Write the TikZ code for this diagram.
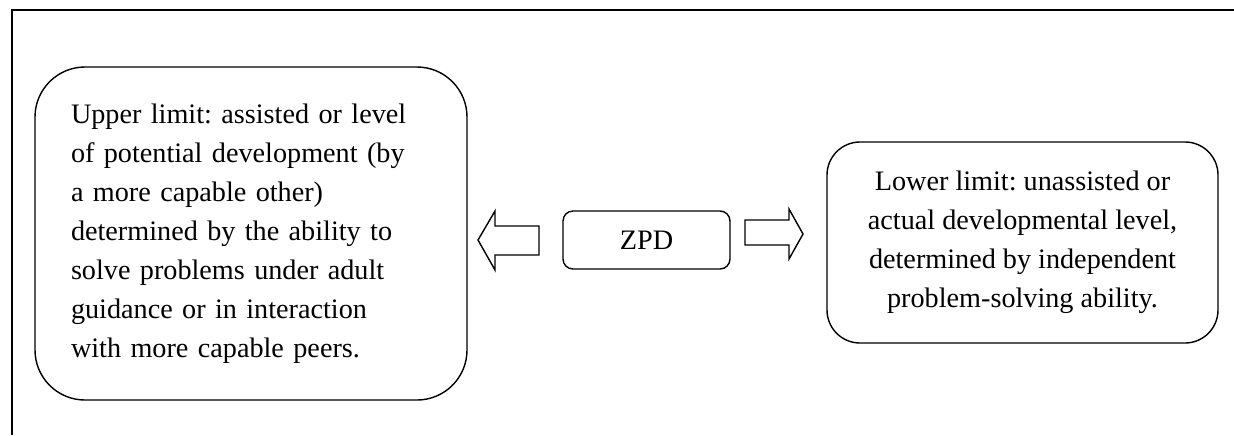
\documentclass[tikz,border=0pt]{standalone}
\usepackage{fontspec}
\setmainfont{Liberation Serif}
\usepackage{tikz}
\usetikzlibrary{positioning}

\tikzset{
	limitbox/.style={draw, line width=0.7pt, rounded corners=25pt, inner sep=0pt},
	blockarrow/.style={draw, line width=0.7pt, line join=miter}
}

\begin{document}
\frenchspacing
\begin{tikzpicture}[x=0.5pt, y=-0.5pt]
			\useasboundingbox (0,0) rectangle (1234,435);
			\fontsize{14.1}{19.5}\selectfont

			%% Frame
			\draw[line width=1pt] (1234,10)--(12,10)--(12,435);

			%% Upper limit
			\node[limitbox, minimum width=216pt, minimum height=166.5pt,
				text width=180pt, align=left] (upper) at (251,233.5)
				{Upper limit: assisted or level\\
				 of potential development (by\\
				 a more capable other)\\
				 determined by the ability to\\
				 solve problems under adult\\
				 guidance or in interaction\\
				 with more capable peers.};

			%% ZPD
			\node[limitbox, rounded corners=5pt, minimum width=83.5pt,
				minimum height=29pt] (zpd) at (646.5,240) {ZPD};

			%% Lower limit
			\node[limitbox, rounded corners=16.5pt, minimum width=195.5pt,
				minimum height=100.5pt, align=center] (lower) at (1022.5,242.5)
				{Lower limit: unassisted or\\
				 actual developmental level,\\
				 determined by independent\\
				 problem-solving ability.};

			%% Arrows
			\draw[blockarrow] (478,240)--(495,211)--(495,226)--(539,226)
				--(539,255)--(495,255)--(495,270)--cycle;
			\draw[blockarrow] (803,234)--(789,209)--(789,220)--(745,220)
				--(745,245)--(789,245)--(789,259)--cycle;
		\end{tikzpicture}
\end{document}
